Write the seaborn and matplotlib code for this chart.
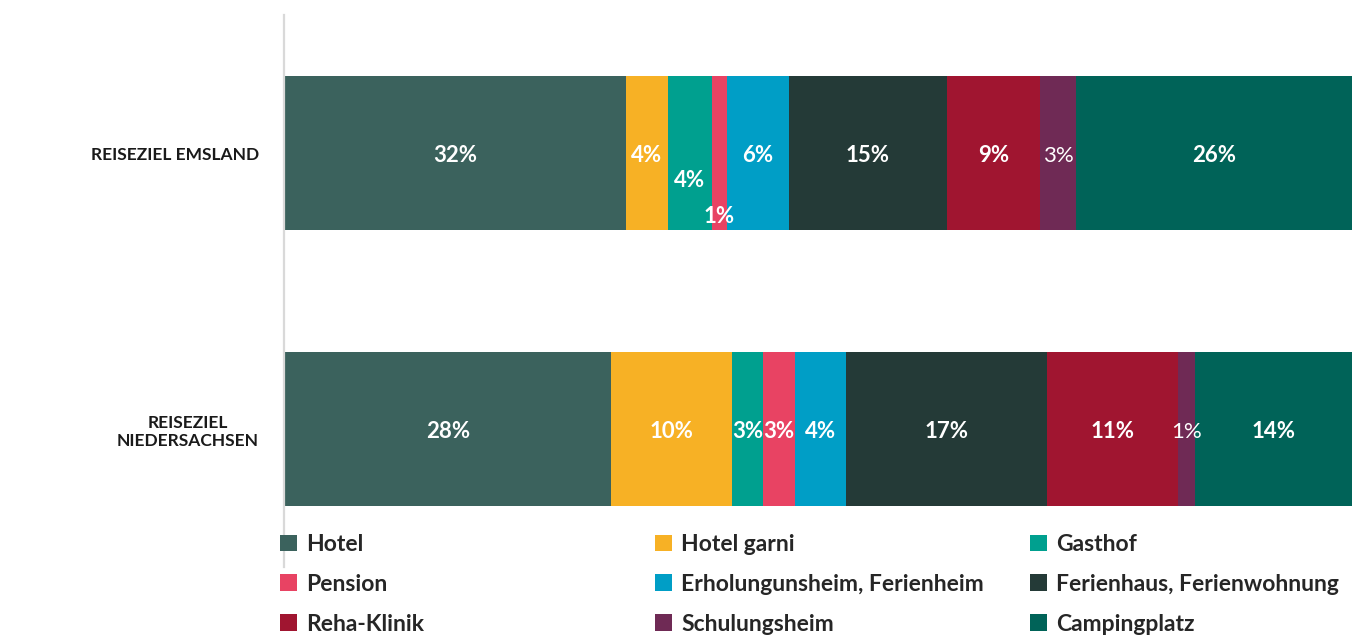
import numpy as np
import pandas as pd
import matplotlib
matplotlib.use("Agg")
import matplotlib.pyplot as plt
from matplotlib.patches import Patch
import seaborn as sns

# ---------------- data ----------------
regions = ["REISEZIEL EMSLAND", "REISEZIEL\nNIEDERSACHSEN"]
types = ["Hotel", "Hotel garni", "Gasthof", "Pension",
         "Erholungunsheim, Ferienheim", "Ferienhaus, Ferienwohnung",
         "Reha-Klinik", "Schulungsheim", "Campingplatz"]
emsland = [32.0, 3.9, 4.1, 1.4, 5.8, 14.8, 8.7, 3.4, 25.8]
niedersachsen = [28.3, 10.4, 2.7, 2.8, 4.4, 17.3, 11.4, 1.4, 13.6]
colors = ["#3B625D", "#F7B125", "#00A08F", "#E84363", "#009EC6",
          "#243A37", "#A01530", "#6F2A55", "#006358"]

# ---------------- style ----------------
sns.set_theme(style="white")
plt.rcParams["font.family"] = ["Lato", "DejaVu Sans"]

fig = plt.figure(figsize=(13.52, 6.37), dpi=100)
ax = fig.add_axes([284 / 1352, 70 / 637, 1 - 284 / 1352, 552 / 637])

vals = np.array([emsland, niedersachsen])
shares = vals / vals.sum(axis=1, keepdims=True) * 100
cum = np.cumsum(shares, axis=1)

# stacked bars: draw cumulative totals from the last segment to the first
for i in range(len(types) - 1, -1, -1):
    df = pd.DataFrame({"region": regions, "value": cum[:, i]})
    sns.barplot(data=df, x="value", y="region", orient="h", color=colors[i],
                width=0.558, linewidth=0, saturation=1, ax=ax)

ax.set_xlim(0, 100)
ax.set_ylim(1.5, -0.5)
ax.set_xlabel("")
ax.set_ylabel("")
ax.set_xticks([])
for s in ["top", "right", "bottom"]:
    ax.spines[s].set_visible(False)
ax.spines["left"].set_color("#D9D9D9")
ax.spines["left"].set_linewidth(1.6)
ax.tick_params(axis="y", length=0, pad=18)
for lab in ax.get_yticklabels():
    lab.set_fontsize(12.5)
    lab.set_fontweight("bold")
    lab.set_color("#1A1A1A")
    lab.set_multialignment("center")

# value labels
y_offsets = {(0, 2): 0.09, (0, 3): 0.22}
light = {7}
for r in range(len(regions)):
    for i in range(len(types)):
        left = cum[r, i] - shares[r, i]
        xc = left + shares[r, i] / 2
        yc = r + 0.01 + y_offsets.get((r, i), 0.0)
        ax.text(xc, yc, f"{vals[r, i]:.0f}%", ha="center", va="center",
                color="white", fontsize=16,
                fontweight="normal" if i in light else "bold")

# legend: three columns
col_x = [280 / 1352, 655 / 1352, 1030 / 1352]
for c in range(3):
    handles = [Patch(facecolor=colors[c + 3 * k], edgecolor="none")
               for k in range(3)]
    labels = [types[c + 3 * k] for k in range(3)]
    fig.legend(handles, labels, loc="upper left",
               bbox_to_anchor=(col_x[c], 1 - 534 / 637),
               frameon=False, ncol=1, handlelength=0.75, handleheight=0.75,
               handletextpad=0.4, labelspacing=0.82, borderpad=0,
               borderaxespad=0,
               prop={"family": ["Lato", "DejaVu Sans"], "weight": "bold",
                     "size": 16.5})

fig.savefig("out.png", dpi=100)
